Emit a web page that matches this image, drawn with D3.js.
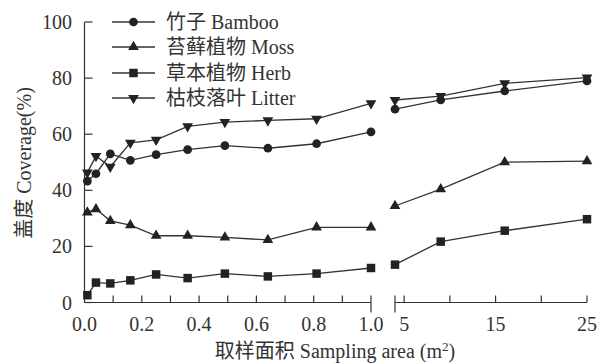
<!DOCTYPE html>
<html><head><meta charset="utf-8">
<script src="https://cdn.jsdelivr.net/npm/d3@7"></script>
<style>
body{margin:0;background:#fff;}
</style></head>
<body><svg id="c" width="610" height="364"></svg>
<script>
const xLeft = [0.01,0.04,0.09,0.16,0.25,0.36,0.49,0.64,0.81,1.0];
const xRight = [4,9,16,25];
const bambooL = [43.3,45.9,53.0,50.7,52.7,54.5,55.9,55.0,56.6,60.8];
const bambooR = [68.9,72.2,75.4,79.0];
const mossL = [32.1,33.3,29.1,27.6,23.8,23.8,23.2,22.3,26.8,26.8];
const mossR = [34.4,40.4,50.0,50.4];
const herbL = [2.6,7.1,6.8,7.9,10.0,8.7,10.3,9.3,10.3,12.3];
const herbR = [13.5,21.7,25.6,29.7];
const litterL = [46.3,52.2,48.4,56.9,58.0,62.8,64.3,64.9,65.5,71.0];
const litterR = [72.2,73.6,78.1,80.2];
const seriesNames = ["竹子 Bamboo","苔藓植物 Moss","草本植物 Herb","枯枝落叶 Litter"];
const yTicks = [0,20,40,60,80,100];
const xTicksLeftMinor = [0.1,0.2,0.3,0.4,0.5,0.6,0.7,0.8,0.9,1.0];
const xLabelsLeft = [0.0,0.2,0.4,0.6,0.8,1.0];
const xTicksRight = [5,10,15,20,25];
const xLabelsRight = [5,15,25];

const FONT = "'Liberation Serif', 'DejaVu Serif', 'Noto Sans CJK SC', serif";
const svg = d3.select("#c");
const ink = "#222", lineC = "#333", txt = "#333";
const y = d3.scaleLinear().domain([0,100]).range([302.5,22]);
const xl = d3.scaleLinear().domain([0,1]).range([84.5,371]);
const xr = d3.scaleLinear().domain([4,25]).range([395,587]);

const g = svg.append("g").attr("font-family",FONT).style("font-family",FONT);
// y axis
g.append("line").attr("x1",84.5).attr("x2",84.5).attr("y1",y(100)).attr("y2",y(0)).attr("stroke",lineC).attr("stroke-width",1.2);
yTicks.forEach(t=>{
  g.append("line").attr("x1",84.5).attr("x2",92.5).attr("y1",y(t)).attr("y2",y(t)).attr("stroke",lineC).attr("stroke-width",1.2);
  g.append("text").attr("x",72).attr("y",y(t)).attr("dy","0.35em").attr("text-anchor","end")
   .attr("font-size",20).attr("fill",txt).text(t);
});
// left x axis
g.append("line").attr("x1",xl(0)).attr("x2",xl(1)).attr("y1",y(0)).attr("y2",y(0)).attr("stroke",lineC).attr("stroke-width",1.2);
xTicksLeftMinor.forEach(t=>{
  g.append("line").attr("x1",xl(t)).attr("x2",xl(t)).attr("y1",y(0)-7).attr("y2",y(0)).attr("stroke",lineC).attr("stroke-width",1.2);
});
g.append("line").attr("x1",xl(1)).attr("x2",xl(1)).attr("y1",y(0)).attr("y2",y(0)+10).attr("stroke",lineC).attr("stroke-width",1.2);
xLabelsLeft.forEach(t=>{
  g.append("text").attr("x",xl(t)).attr("y",331).attr("text-anchor","middle")
   .attr("font-size",20).attr("fill",txt).text(d3.format(".1f")(t));
});
// right x axis
g.append("line").attr("x1",xr(4)).attr("x2",xr(25)).attr("y1",y(0)).attr("y2",y(0)).attr("stroke",lineC).attr("stroke-width",1.2);
g.append("line").attr("x1",xr(4)).attr("x2",xr(4)).attr("y1",y(0)-7).attr("y2",y(0)+10).attr("stroke",lineC).attr("stroke-width",1.2);
xTicksRight.forEach(t=>{
  g.append("line").attr("x1",xr(t)).attr("x2",xr(t)).attr("y1",y(0)-7).attr("y2",y(0)).attr("stroke",lineC).attr("stroke-width",1.2);
});
xLabelsRight.forEach(t=>{
  g.append("text").attr("x",xr(t)).attr("y",331).attr("text-anchor","middle")
   .attr("font-size",20).attr("fill",txt).text(t);
});
// axis titles
const xt = g.append("text").attr("x",335).attr("y",358).attr("text-anchor","middle").attr("font-size",20).attr("fill",txt);
xt.append("tspan").text("取样面积 Sampling area (m");
xt.append("tspan").attr("font-size",13).attr("dy",-7).text("2");
xt.append("tspan").attr("dy",7).text(")");
g.append("text").attr("transform","translate(31,163) rotate(-90)").attr("text-anchor","middle")
 .attr("font-size",20).attr("fill",txt).text("盖度 Coverage(%)");

const symbols = [
  {type:d3.symbolCircle,size:60,rot:0},
  {type:d3.symbolTriangle,size:50,rot:0},
  {type:d3.symbolSquare,size:72,rot:0},
  {type:d3.symbolTriangle,size:50,rot:180}
];
const data = [[bambooL,bambooR],[mossL,mossR],[herbL,herbR],[litterL,litterR]];
const line = d3.line();
data.forEach((sd,i)=>{
  const segs = [[xLeft,sd[0],xl],[xRight,sd[1],xr]];
  segs.forEach(([xs,ys,sx])=>{
    const pts = xs.map((xv,j)=>[sx(xv),y(ys[j])]);
    g.append("path").attr("d",line(pts)).attr("fill","none").attr("stroke",lineC).attr("stroke-width",1.3);
  });
});
data.forEach((sd,i)=>{
  const segs = [[xLeft,sd[0],xl],[xRight,sd[1],xr]];
  segs.forEach(([xs,ys,sx])=>{
    xs.forEach((xv,j)=>{
      const s = symbols[i];
      g.append("path").attr("d",d3.symbol().type(s.type).size(s.size)())
       .attr("transform",`translate(${sx(xv)},${y(ys[j])}) rotate(${s.rot})`).attr("fill",ink);
    });
  });
});
// legend
const legY = [22,47,73,98];
seriesNames.forEach((n,i)=>{
  g.append("line").attr("x1",112).attr("x2",155).attr("y1",legY[i]).attr("y2",legY[i]).attr("stroke",lineC).attr("stroke-width",1.3);
  const s = symbols[i];
  g.append("path").attr("d",d3.symbol().type(s.type).size(s.size)())
   .attr("transform",`translate(133.5,${legY[i]}) rotate(${s.rot})`).attr("fill",ink);
  g.append("text").attr("x",166).attr("y",legY[i]).attr("dy","0.35em").attr("font-size",20).attr("fill",txt).text(n);
});
</script></body></html>
